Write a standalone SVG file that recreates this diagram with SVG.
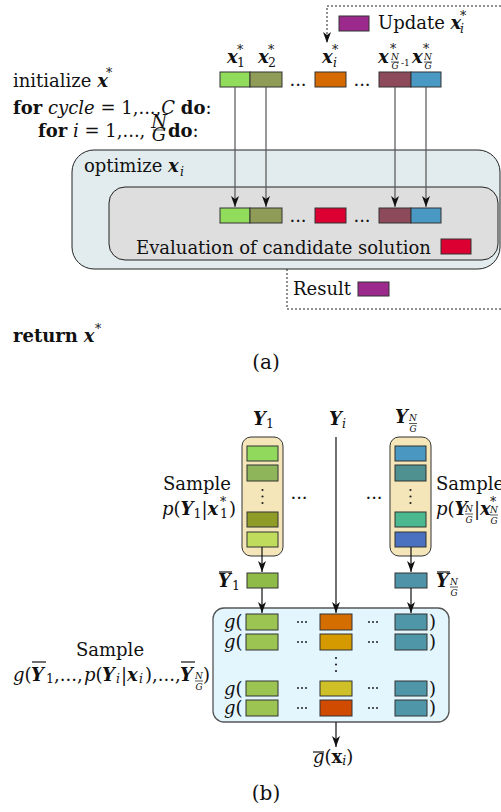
<svg xmlns="http://www.w3.org/2000/svg" width="501" height="812" viewBox="0 0 501 812">
<style>
text{font-family:"DejaVu Serif","Liberation Serif",serif;font-size:18px;fill:#111}
.bi{font-weight:bold;font-style:italic}
.it{font-style:italic}
.b{font-weight:bold}
.s{font-size:12.5px}
.f{font-size:9px}
.sq{stroke:#333;stroke-width:1}
.ln{stroke:#555;stroke-width:1.2;fill:none}
.lk{stroke:#111;stroke-width:1.2;fill:none}
.dot{stroke:#222;stroke-width:1;stroke-dasharray:2,2;fill:none}
.fl{stroke:#111;stroke-width:0.7}
.ov{stroke:#111;stroke-width:1.2}
.lab{font-size:20px}
</style>
<defs>
<marker id="ah" viewBox="0 0 11 8" refX="11" refY="4" markerWidth="11" markerHeight="8" orient="auto" markerUnits="userSpaceOnUse"><path d="M0,0 L11,4 L0,8 L3,4 z" fill="#111"/></marker>
</defs>

<!-- ================= Panel (a) ================= -->
<g id="algo-text">
<text x="13" y="87">initialize <tspan class="bi">x</tspan></text>
<text x="106" y="77" class="s">*</text>
<text x="13" y="114"><tspan class="b">for</tspan> <tspan class="it">cycle</tspan> = 1,...,<tspan class="it">C</tspan> <tspan class="b">do</tspan>:</text>
<text x="38" y="137"><tspan class="b">for</tspan> <tspan class="it">i</tspan> = 1,...,</text>
<text x="159" y="128" class="it" font-size="12" text-anchor="middle">N</text>
<line x1="153" y1="130" x2="165" y2="130" class="fl"/>
<text x="159" y="141" class="it" font-size="12" text-anchor="middle">G</text>
<text x="168" y="137"><tspan class="b">do</tspan>:</text>
<text x="13" y="342"><tspan class="b">return</tspan> <tspan class="bi">x</tspan></text>
<text x="95" y="333" class="s">*</text>
<text x="266" y="369" text-anchor="middle" class="lab">(a)</text>
</g>

<g id="connectors-a">
<path d="M501,6 H327 V43" class="dot" marker-end="url(#ah)"/>
<path d="M287,269 V309 H501" class="dot"/>
</g>

<g id="update">
<rect x="339" y="16" width="30" height="15" fill="#9c2a8c" class="sq"/>
<text x="378" y="29">Update <tspan class="bi">x</tspan></text>
<text x="460" y="20" class="s">*</text>
<text x="460" y="33" class="it s">i</text>
</g>

<g id="top-labels">
<text x="227" y="63" class="bi">x</text><text x="237" y="54" class="s">*</text><text x="237" y="67" class="s">1</text>
<text x="258" y="63" class="bi">x</text><text x="268" y="54" class="s">*</text><text x="268" y="67" class="s">2</text>
<text x="322" y="63" class="bi">x</text><text x="332" y="54" class="s">*</text><text x="333" y="67" class="it s">i</text>
<text x="378" y="63" class="bi">x</text><text x="390" y="53" class="s">*</text>
<text x="395" y="60" class="it f" text-anchor="middle">N</text><line x1="391" y1="62" x2="399" y2="62" class="fl"/><text x="395" y="69" class="it f" text-anchor="middle">G</text>
<text x="401" y="66" class="f">-1</text>
<text x="412" y="63" class="bi">x</text><text x="423" y="53" class="s">*</text>
<text x="428" y="60" class="it f" text-anchor="middle">N</text><line x1="424" y1="62" x2="432" y2="62" class="fl"/><text x="428" y="69" class="it f" text-anchor="middle">G</text>
</g>

<g id="top-row">
<rect x="220" y="72" width="30" height="15" fill="#92dc5c" class="sq"/>
<rect x="250" y="72" width="32" height="15" fill="#8e9c58" class="sq"/>
<text x="298" y="86" text-anchor="middle">...</text>
<rect x="315" y="72" width="31" height="15" fill="#d46a00" class="sq"/>
<text x="362" y="86" text-anchor="middle">...</text>
<rect x="379" y="72" width="32" height="15" fill="#8c4a5a" class="sq"/>
<rect x="411" y="72" width="30" height="15" fill="#4a98c4" class="sq"/>
</g>

<g id="optimize">
<rect x="72" y="150" width="428" height="119" rx="22" fill="#e2ecee" stroke="#222" stroke-width="1"/>
<text x="84" y="172">optimize <tspan class="bi">x</tspan></text>
<text x="180" y="176" class="it s">i</text>
</g>

<g id="evaluation">
<rect x="109" y="187" width="389" height="73" rx="16" fill="#dedede" stroke="#222" stroke-width="1"/>
<rect x="220" y="208" width="30" height="15" fill="#92dc5c" class="sq"/>
<rect x="250" y="208" width="32" height="15" fill="#8e9c58" class="sq"/>
<text x="298" y="222" text-anchor="middle">...</text>
<rect x="315" y="208" width="31" height="15" fill="#dc0032" class="sq"/>
<text x="362" y="222" text-anchor="middle">...</text>
<rect x="379" y="208" width="32" height="15" fill="#8c4a5a" class="sq"/>
<rect x="411" y="208" width="30" height="15" fill="#4a98c4" class="sq"/>
<text x="136" y="254">Evaluation of candidate solution</text>
<rect x="441" y="239" width="30" height="15" fill="#dc0032" class="sq"/>
</g>

<g id="connectors-a2">
<line x1="235" y1="87" x2="235" y2="207" class="ln" marker-end="url(#ah)"/>
<line x1="266" y1="87" x2="266" y2="207" class="ln" marker-end="url(#ah)"/>
<line x1="395" y1="87" x2="395" y2="207" class="ln" marker-end="url(#ah)"/>
<line x1="426" y1="87" x2="426" y2="207" class="ln" marker-end="url(#ah)"/>
</g>

<g id="result">
<text x="293" y="295">Result</text>
<rect x="358" y="282" width="31" height="14" fill="#9c2a8c" class="sq"/>
</g>

<!-- ================= Panel (b) ================= -->
<g id="col-labels">
<text x="253" y="425" class="bi">Y</text><text x="266" y="428" class="s">1</text>
<text x="329" y="425" class="bi">Y</text><text x="342" y="428" class="it s">i</text>
<text x="395" y="423" class="bi">Y</text>
<text x="413" y="421" class="it f" text-anchor="middle">N</text><line x1="409" y1="423.5" x2="417" y2="423.5" class="fl"/><text x="413" y="432" class="it f" text-anchor="middle">G</text>
</g>

<g id="col1">
<rect x="242" y="437" width="41" height="119" rx="9" fill="#f5e6b9" stroke="#333" stroke-width="1"/>
<rect x="247" y="446" width="31" height="15" fill="#90d95c" class="sq"/>
<rect x="247" y="465" width="31" height="16" fill="#8fb55a" class="sq"/>
<circle cx="262.5" cy="490" r="1.1" fill="#222"/><circle cx="262.5" cy="496.5" r="1.1" fill="#222"/><circle cx="262.5" cy="503" r="1.1" fill="#222"/>
<rect x="247" y="512" width="31" height="15" fill="#909c28" class="sq"/>
<rect x="247" y="532" width="31" height="15" fill="#c0dc5c" class="sq"/>
<text x="231" y="490" text-anchor="end">Sample</text>
<text x="162" y="515"><tspan class="it">p</tspan>(<tspan class="bi">Y</tspan><tspan class="s" dy="3">1</tspan><tspan dy="-3">|</tspan><tspan class="bi">x</tspan></text>
<text x="220" y="506" class="s">*</text><text x="220" y="518" class="s">1</text>
<text x="229" y="515">)</text>
</g>

<g id="colN">
<rect x="390" y="437" width="41" height="119" rx="9" fill="#f5e6b9" stroke="#333" stroke-width="1"/>
<rect x="395" y="446" width="31" height="15" fill="#4a97c2" class="sq"/>
<rect x="395" y="465" width="31" height="16" fill="#4f9090" class="sq"/>
<circle cx="410.5" cy="490" r="1.1" fill="#222"/><circle cx="410.5" cy="496.5" r="1.1" fill="#222"/><circle cx="410.5" cy="503" r="1.1" fill="#222"/>
<rect x="395" y="512" width="31" height="15" fill="#4cb890" class="sq"/>
<rect x="395" y="532" width="31" height="15" fill="#4a70c0" class="sq"/>
<text x="436" y="490">Sample</text>
<text x="436" y="515"><tspan class="it">p</tspan>(<tspan class="bi">Y</tspan></text>
<text x="469" y="512" class="it f" text-anchor="middle">N</text><line x1="465" y1="514" x2="473" y2="514" class="fl"/><text x="469" y="523" class="it f" text-anchor="middle">G</text>
<text x="474" y="515">|<tspan class="bi">x</tspan></text>
<text x="490" y="506" class="s">*</text>
<text x="494" y="513" class="it f" text-anchor="middle">N</text><line x1="490" y1="515" x2="498" y2="515" class="fl"/><text x="494" y="524" class="it f" text-anchor="middle">G</text>
</g>

<g id="mid-dots">
<text x="299" y="499" text-anchor="middle">...</text>
<text x="374" y="499" text-anchor="middle">...</text>
</g>

<g id="ybar1">
<rect x="247" y="573" width="31" height="15" fill="#8fbb48" class="sq"/>
<text x="218" y="587" class="bi">Y</text><line x1="219" y1="572" x2="232" y2="572" class="ov"/>
<text x="232" y="590" class="s">1</text>
</g>

<g id="ybarN">
<rect x="395" y="573" width="32" height="15" fill="#4f93a8" class="sq"/>
<text x="436" y="587" class="bi">Y</text><line x1="437" y1="572" x2="450" y2="572" class="ov"/>
<text x="454" y="585" class="it f" text-anchor="middle">N</text><line x1="450" y1="587" x2="458" y2="587" class="fl"/><text x="454" y="596" class="it f" text-anchor="middle">G</text>
</g>

<g id="gbox">
<rect x="213" y="608" width="236" height="114" rx="11" fill="#e3f5fd" stroke="#555" stroke-width="1.3"/>
<text x="224" y="628"><tspan class="it">g</tspan>(</text>
<text x="224" y="648"><tspan class="it">g</tspan>(</text>
<text x="224" y="695"><tspan class="it">g</tspan>(</text>
<text x="224" y="714"><tspan class="it">g</tspan>(</text>
<text x="429" y="628">)</text>
<text x="429" y="648">)</text>
<text x="429" y="695">)</text>
<text x="429" y="714">)</text>
<rect x="246" y="614" width="32" height="16" fill="#9cc452" class="sq"/>
<rect x="246" y="634" width="32" height="16" fill="#9cc452" class="sq"/>
<rect x="246" y="681" width="32" height="15" fill="#9cc452" class="sq"/>
<rect x="246" y="700" width="32" height="16" fill="#9cc452" class="sq"/>
<rect x="320" y="614" width="32" height="16" fill="#d46e00" class="sq"/>
<rect x="320" y="634" width="32" height="16" fill="#d49a00" class="sq"/>
<rect x="320" y="681" width="32" height="15" fill="#d0c028" class="sq"/>
<rect x="320" y="700" width="32" height="16" fill="#d04a00" class="sq"/>
<rect x="395" y="614" width="32" height="16" fill="#4f97a8" class="sq"/>
<rect x="395" y="634" width="32" height="16" fill="#4f97a8" class="sq"/>
<rect x="395" y="681" width="32" height="15" fill="#4f97a8" class="sq"/>
<rect x="395" y="700" width="32" height="16" fill="#4f97a8" class="sq"/>
<g fill="#222">
<circle cx="298" cy="622" r="1"/><circle cx="302" cy="622" r="1"/><circle cx="306" cy="622" r="1"/>
<circle cx="298" cy="642" r="1"/><circle cx="302" cy="642" r="1"/><circle cx="306" cy="642" r="1"/>
<circle cx="298" cy="688" r="1"/><circle cx="302" cy="688" r="1"/><circle cx="306" cy="688" r="1"/>
<circle cx="298" cy="708" r="1"/><circle cx="302" cy="708" r="1"/><circle cx="306" cy="708" r="1"/>
<circle cx="369" cy="622" r="1"/><circle cx="373" cy="622" r="1"/><circle cx="377" cy="622" r="1"/>
<circle cx="369" cy="642" r="1"/><circle cx="373" cy="642" r="1"/><circle cx="377" cy="642" r="1"/>
<circle cx="369" cy="688" r="1"/><circle cx="373" cy="688" r="1"/><circle cx="377" cy="688" r="1"/>
<circle cx="369" cy="708" r="1"/><circle cx="373" cy="708" r="1"/><circle cx="377" cy="708" r="1"/>
<circle cx="336" cy="658" r="1.1"/><circle cx="336" cy="664.5" r="1.1"/><circle cx="336" cy="671" r="1.1"/>
</g>
</g>

<g id="sample-g">
<text x="110" y="656" text-anchor="middle">Sample</text>
<text x="13" y="681"><tspan class="it">g</tspan>(</text>
<text x="31" y="681" class="bi">Y</text><line x1="32" y1="662" x2="46" y2="662" class="ov"/>
<text x="46" y="683" class="s">1</text>
<text x="54" y="681">,...,</text>
<text x="84" y="681"><tspan class="it">p</tspan>(</text>
<text x="102" y="681" class="bi">Y</text>
<text x="116" y="683" class="it s">i</text>
<text x="121" y="681">|</text>
<text x="127" y="681" class="bi">x</text>
<text x="139" y="683" class="it s">i</text>
<text x="145" y="681">),...,</text>
<text x="180" y="681" class="bi">Y</text><line x1="181" y1="662" x2="195" y2="662" class="ov"/>
<text x="199" y="679" class="it f" text-anchor="middle">N</text><line x1="195" y1="681" x2="203" y2="681" class="fl"/><text x="199" y="690" class="it f" text-anchor="middle">G</text>
<text x="203" y="681">)</text>
</g>

<g id="connectors-b">
<line x1="262" y1="547" x2="262" y2="572" class="lk" marker-end="url(#ah)"/>
<line x1="336" y1="437" x2="336" y2="613" class="lk" marker-end="url(#ah)"/>
<line x1="262" y1="588" x2="262" y2="613" class="lk" marker-end="url(#ah)"/>
<line x1="411" y1="547" x2="411" y2="572" class="lk" marker-end="url(#ah)"/>
<line x1="411" y1="588" x2="411" y2="613" class="lk" marker-end="url(#ah)"/>
<line x1="336" y1="722" x2="336" y2="747" class="lk" marker-end="url(#ah)"/>
</g>

<g id="gbar">
<text x="313" y="763"><tspan class="it">g</tspan>(<tspan class="b">x</tspan><tspan class="it s" dy="2">i</tspan><tspan dy="-2">)</tspan></text>
<line x1="313" y1="752" x2="324" y2="752" class="ov"/>
<text x="266" y="800" text-anchor="middle" class="lab">(b)</text>
</g>
</svg>
